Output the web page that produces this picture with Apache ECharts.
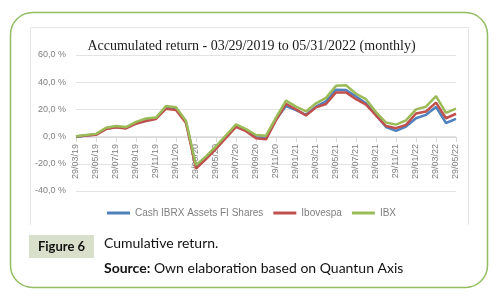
<!DOCTYPE html>
<html>
<head>
<meta charset="utf-8">
<script src="https://cdn.jsdelivr.net/npm/echarts@6/dist/echarts.min.js"></script>
<style>
    html, body { margin: 0; padding: 0; background: #fff; }
    #chart { width: 503px; height: 302px; }
</style>
</head>
<body>
<div id="chart"></div>
<script>
var months = ['29/03/19', '29/04/19', '29/05/19', '29/06/19', '29/07/19', '29/08/19', '29/09/19', '29/10/19', '29/11/19', '29/12/19',
    '29/01/20', '29/02/20', '29/03/20', '29/04/20', '29/05/20', '29/06/20', '29/07/20', '29/08/20', '29/09/20', '29/10/20', '29/11/20', '29/12/20',
    '29/01/21', '29/02/21', '29/03/21', '29/04/21', '29/05/21', '29/06/21', '29/07/21', '29/08/21', '29/09/21', '29/10/21', '29/11/21', '29/12/21',
    '29/01/22', '29/02/22', '29/03/22', '29/04/22', '29/05/22'];

var cashIbrx = [-0.3, 0.8, 1.5, 5.8, 7.0, 6.5, 10.0, 12.0, 13.3, 21.5, 20.5, 10.5, -22.0, -15.5, -8.0, -0.5, 8.0, 4.5, -0.5, -1.0,
    12.5, 22.5, 19.5, 16.0, 22.0, 26.0, 34.5, 34.3, 29.5, 24.5, 16.0, 7.0, 4.2, 7.4, 13.5, 16.0, 21.8, 10.0, 13.0];
var ibovespa = [0.0, 0.8, 1.3, 5.5, 6.8, 6.0, 9.5, 11.5, 13.0, 20.5, 19.5, 10.0, -23.5, -16.5, -9.0, -1.0, 7.2, 4.0, -1.2, -2.0,
    12.0, 24.0, 20.0, 15.5, 21.5, 24.0, 32.5, 32.5, 27.5, 23.5, 15.5, 7.8, 6.2, 8.6, 17.0, 18.5, 25.0, 13.5, 16.8];
var ibx = [0.3, 1.2, 2.0, 6.5, 7.8, 7.0, 10.8, 13.3, 14.0, 22.5, 21.5, 11.5, -21.0, -14.5, -7.0, 1.0, 9.0, 5.5, 1.2, 0.7,
    14.0, 26.5, 22.0, 18.5, 24.5, 28.5, 37.3, 37.8, 31.5, 27.5, 18.0, 10.3, 8.8, 12.0, 20.0, 22.0, 29.8, 17.5, 20.6];

var seriesNames = ['Cash IBRX Assets FI Shares', 'Ibovespa', 'IBX'];
var seriesColors = ['#4f81bd', '#c0504d', '#9bbb59'];

var chart = echarts.init(document.getElementById('chart'));

function lineSeries(i, data) {
    return {
        name: seriesNames[i],
        type: 'line',
        data: data,
        symbol: 'none',
        smooth: false,
        lineStyle: { width: 2.5, color: seriesColors[i] },
        itemStyle: { color: seriesColors[i] }
    };
}

chart.setOption({
    animation: false,
    backgroundColor: '#fff',
    title: {
        text: 'Accumulated return - 03/29/2019 to 05/31/2022 (monthly)',
        left: 'center',
        top: 34,
        textStyle: {
            fontFamily: 'Liberation Serif',
            fontSize: 14,
            fontWeight: 'normal',
            color: '#1a1a1a'
        }
    },
    legend: {
        data: seriesNames,
        top: 203,
        left: 'center',
        icon: 'rect',
        itemWidth: 23,
        itemHeight: 3,
        itemGap: 10,
        textStyle: { fontFamily: 'Liberation Sans', fontSize: 10, color: '#7f7f7f' }
    },
    grid: { left: 76, right: 47, top: 55, bottom: 111 },
    xAxis: {
        type: 'category',
        data: months,
        boundaryGap: false,
        position: 'bottom',
        // the axis sits on the 0 line (54px above the grid bottom)
        offset: -54,
        axisLine: { onZero: false, lineStyle: { color: '#d9d9d9', width: 1 } },
        axisTick: { show: true, interval: 1, length: 5, lineStyle: { color: '#d9d9d9' } },
        axisLabel: {
            interval: 1,
            rotate: 90,
            margin: 7,
            fontFamily: 'Liberation Sans',
            fontSize: 9,
            color: '#7f7f7f'
        },
        splitLine: { show: false }
    },
    yAxis: {
        type: 'value',
        min: -40,
        max: 60,
        interval: 20,
        axisLine: { show: false },
        axisTick: { show: false },
        axisLabel: {
            margin: 10,
            fontFamily: 'Liberation Sans',
            fontSize: 9,
            color: '#7f7f7f',
            formatter: function (v) { return v.toFixed(1).replace('.', ',') + ' %'; }
        },
        splitLine: { lineStyle: { color: '#e3e3e3', width: 1 } }
    },
    series: [
        lineSeries(0, cashIbrx),
        lineSeries(1, ibovespa),
        lineSeries(2, ibx)
    ],
    graphic: [
        // rounded green frame
        {
            type: 'rect',
            shape: { x: 10.5, y: 12.5, width: 477, height: 275, r: 22 },
            style: { fill: 'none', stroke: '#92bd62', lineWidth: 1.5 },
            silent: true
        },
        // light frame of the chart image
        {
            type: 'polyline',
            shape: { points: [[30.5, 225], [30.5, 27.5], [468.5, 27.5], [468.5, 225]] },
            style: { fill: 'none', stroke: '#e6e6e6', lineWidth: 1 },
            silent: true
        },
        {
            type: 'rect',
            shape: { x: 29, y: 235, width: 65, height: 23 },
            style: { fill: '#d8dfcb' },
            silent: true
        },
        {
            type: 'text',
            style: {
                x: 61.5, y: 247, text: 'Figure 6', align: 'center', verticalAlign: 'middle',
                font: 'bold 13px Lato', fill: '#111'
            },
            silent: true
        },
        {
            type: 'text',
            style: {
                x: 104, y: 243, text: 'Cumulative return.', verticalAlign: 'middle',
                font: '14px Lato', fill: '#111'
            },
            silent: true
        },
        {
            type: 'text',
            style: {
                x: 104, y: 268, verticalAlign: 'middle',
                text: '{b|Source:} Own elaboration based on Quantun Axis',
                font: '14px Lato', fill: '#111',
                rich: { b: { font: 'bold 14px Lato', fill: '#111' } }
            },
            silent: true
        }
    ]
});
</script>
</body>
</html>
